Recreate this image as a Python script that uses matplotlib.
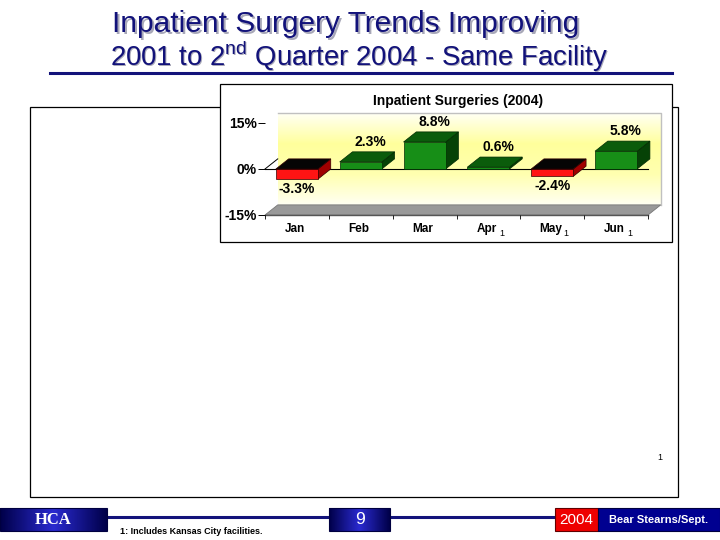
import numpy as np
import matplotlib.pyplot as plt
from matplotlib.patches import Polygon, Rectangle
from matplotlib.colors import LinearSegmentedColormap

# data
months = ['Jan', 'Feb', 'Mar', 'Apr', 'May', 'Jun']
marks = ['', '', '', '1', '1', '1']
growth = [-3.3, 2.3, 8.8, 0.6, -2.4, 5.8]
y_ticks = [-15, 0, 15]
y_labels = ['-15%', '0%', '15%']

plt.rcParams['font.family'] = ['Liberation Sans', 'DejaVu Sans']
plt.rcParams['mathtext.fontset'] = 'custom'
plt.rcParams['mathtext.rm'] = 'Liberation Sans'

NAVY = '#12127a'

fig = plt.figure(figsize=(7.2, 5.4), dpi=100)

# page layer in pixel coordinates
pg = fig.add_axes([0, 0, 1, 1])
pg.set_xlim(0, 720)
pg.set_ylim(540, 0)
pg.axis('off')

def grad_box(x0, x1, y0, y1, colors):
    cm = LinearSegmentedColormap.from_list('g', colors)
    pg.imshow(np.linspace(0, 1, 64)[None, :], cmap=cm, aspect='auto',
              extent=(x0, x1, y1, y0), zorder=2)
    pg.add_patch(Rectangle((x0, y0), x1 - x0, y1 - y0, fill=False,
                           ec='#000040', lw=0.8, zorder=3))

# titles with shadow
for dx, col in [(1.5, '#a8a8b8'), (0, NAVY)]:
    pg.text(346 + dx, 24 + dx, 'Inpatient Surgery Trends Improving', fontsize=21.5,
            color=col, ha='center', va='center')
    pg.text(359 + dx, 56 + dx, r'2001 to 2$^{\rm nd}$ Quarter 2004 - Same Facility',
            fontsize=19.8, color=col, ha='center', va='center')
pg.plot([50, 672], [73, 73], color=NAVY, lw=2.2)

# content boxes
pg.add_patch(Rectangle((30, 107), 648, 390, fc='white', ec='black', lw=0.9))
pg.add_patch(Rectangle((220, 84), 452, 158, fc='white', ec='black', lw=0.9, zorder=1))
pg.text(458, 101, 'Inpatient Surgeries (2004)', fontsize=10, fontweight='bold',
        ha='center', va='center')
pg.text(660, 458, '1', fontsize=6.5, ha='center', va='center')

# footer
pg.plot([107, 555], [517, 517], color=NAVY, lw=2.2, zorder=1)
grad_box(0, 107, 508, 531, ['#00004a', '#2a2ad0', '#00004a'])
pg.text(53, 520, 'HCA', family='Liberation Serif', fontweight='bold', fontsize=12,
        color='white', ha='center', va='center', zorder=4)
grad_box(329, 390, 508, 531, ['#00004a', '#2a2ad0', '#00004a'])
pg.text(359.5, 520, '9', fontsize=12.5, color='white', ha='center', va='center', zorder=4)
pg.add_patch(Rectangle((555, 508), 43, 23, fc='#ee0000', ec='#600000', lw=0.8, zorder=3))
pg.text(576.5, 520, '2004', fontsize=11, color='white', ha='center', va='center', zorder=4)
pg.add_patch(Rectangle((598, 508), 122, 23, fc='#000090', ec='#000040', lw=0.8, zorder=3))
pg.text(659, 520, 'Bear Stearns/Sept.', fontsize=8, fontweight='bold', color='white',
        ha='center', va='center', zorder=4)
pg.text(120, 531, '1: Includes Kansas City facilities.', fontsize=6.5, fontweight='bold',
        ha='left', va='center')

# chart axes
ax = fig.add_axes([265 / 720, (540 - 215) / 540, 383 / 720, 92 / 540])
ax.patch.set_visible(False)
for s in ax.spines.values():
    s.set_visible(False)
ax.set_xlim(-0.5, 5.5)
ax.set_ylim(-15, 15)
DX, DY = 0.2, 3.3
W = 0.33

# back wall with yellow glow
wall_cm = LinearSegmentedColormap.from_list('w', ['#fffff4', '#ffff9c', '#ffffb0', '#fffff2'])
ax.imshow(np.linspace(0, 1, 100)[:, None], cmap=wall_cm, aspect='auto',
          extent=(-0.5 + DX, 5.5 + DX, -15 + DY, 15 + DY), clip_on=False, zorder=0)
ax.plot([-0.5 + DX, 5.5 + DX, 5.5 + DX], [15 + DY, 15 + DY, -15 + DY],
        color='#c0c0c0', lw=1, clip_on=False, zorder=0.5)
# floor
ax.add_patch(Polygon([(-0.5, -15), (5.5, -15), (5.5 + DX, -15 + DY), (-0.5 + DX, -15 + DY)],
                     fc='#999999', ec='#777777', lw=0.6, clip_on=False, zorder=1))
ax.plot([-0.5, 5.5], [-15, -15], color='#555555', lw=1, clip_on=False, zorder=1.2)
# zero line
ax.plot([-0.5, -0.5 + DX], [0, DY], color='black', lw=0.7, clip_on=False, zorder=1)
ax.plot([-0.5, 5.5], [0, 0], color='black', lw=0.8, clip_on=False, zorder=1)

# 3d bars
for i, v in enumerate(growth):
    if v >= 0:
        front, top, side, edge = '#178e17', '#0b5c0b', '#064206', '#022a02'
    else:
        front, top, side, edge = '#ff1414', '#050505', '#a00000', '#300000'
    hi, lo = max(v, 0), min(v, 0)
    ax.add_patch(Polygon([(i + W, lo), (i + W, hi), (i + W + DX, hi + DY), (i + W + DX, lo + DY)],
                         fc=side, ec=edge, lw=0.5, zorder=2, clip_on=False))
    ax.add_patch(Polygon([(i - W, hi), (i + W, hi), (i + W + DX, hi + DY), (i - W + DX, hi + DY)],
                         fc=top, ec=edge, lw=0.5, zorder=2, clip_on=False))
    ax.add_patch(Rectangle((i - W, lo), 2 * W, hi - lo, fc=front, ec=edge, lw=0.5,
                           zorder=3, clip_on=False))
    if v >= 0:
        ax.annotate(f'{v:.1f}%', xy=(i + DX / 2 + 0.05, v + DY), xytext=(0, 2),
                    textcoords='offset points', ha='center', va='bottom',
                    fontsize=10, fontweight='bold', zorder=4)
    else:
        ax.annotate(f'{v:.1f}%', xy=(i, v), xytext=(0, -2),
                    textcoords='offset points', ha='center', va='top',
                    fontsize=10, fontweight='bold', zorder=4)

ax.set_yticks(y_ticks)
ax.set_yticklabels(y_labels, fontsize=10, fontweight='bold')
ax.tick_params(axis='y', length=5, width=0.7, pad=1)
ax.set_xticks(np.arange(-0.5, 6, 1))
ax.set_xticklabels([])
ax.tick_params(axis='x', length=3, width=0.6)
for i, (m, k) in enumerate(zip(months, marks)):
    ax.annotate(m, xy=(i - 0.03, 0), xycoords=('data', 'axes fraction'), xytext=(0, -10),
                textcoords='offset points', ha='center', va='center',
                fontsize=8.5, fontweight='bold')
    if k:
        ax.annotate(k, xy=(i, 0), xycoords=('data', 'axes fraction'), xytext=(10, -13.5),
                    textcoords='offset points', ha='center', va='center', fontsize=6.5)

fig.savefig('out.png', dpi=100)
